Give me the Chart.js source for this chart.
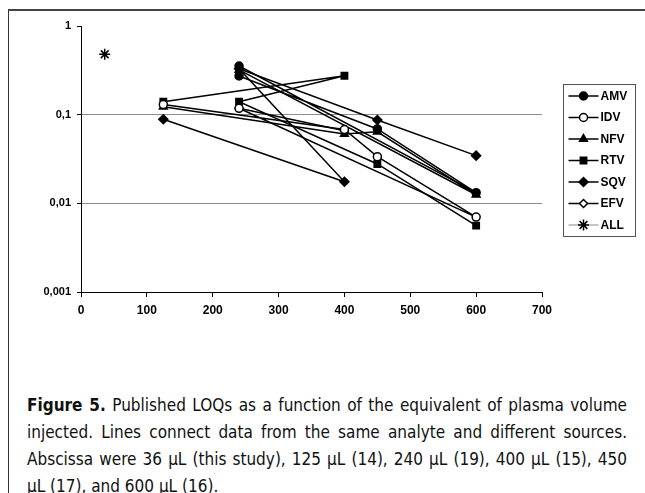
<!DOCTYPE html>
<html>
<head>
<meta charset="utf-8">
<script src="https://cdn.jsdelivr.net/npm/chart.js"></script>
<style>
  html, body { margin: 0; padding: 0; background: #fff; }
  body { width: 645px; height: 493px; position: relative; overflow: hidden; }
  #frame { position: absolute; left: 8px; top: 9px; width: 660px; height: 500px;
           border-top: 2px solid #444; border-left: 1.5px solid #333; }
  #wrap { position: absolute; left: 0; top: 0; width: 645px; height: 330px; }
  #caption { position: absolute; left: 27px; top: 392px; width: 600px;
             font-family: "Liberation Sans Narrow", "DejaVu Sans Condensed", "Liberation Sans", sans-serif;
             font-size: 17px; line-height: 27px; color: #111; }
  #caption div { white-space: nowrap; text-align: justify; text-align-last: justify; }
  #caption div.last { text-align-last: left; }
</style>
</head>
<body>
<div id="frame"></div>
<div id="wrap"><canvas id="myChart" width="645" height="330"></canvas></div>
<div id="caption">
  <div><b>Figure 5.</b> Published LOQs as a function of the equivalent of plasma volume</div>
  <div>injected. Lines connect data from the same analyte and different sources.</div>
  <div>Abscissa were 36 µL (this study), 125 µL (14), 240 µL (19), 400 µL (15), 450</div>
  <div class="last">µL (17), and 600 µL (16).</div>
</div>
<script>
  // axis ticks
  const yTickValues = [0.001, 0.01, 0.1, 1];
  const yTickLabels = ['0,001', '0,01', '0,1', '1'];

  // series, in the order the lines join them (µL injected, LOQ)
  const amvX = [240, 450, 600, 240];
  const amvY = [0.273, 0.069, 0.0132, 0.354];
  const idvX = [125, 400, 450, 600, 240];
  const idvY = [0.13, 0.068, 0.0336, 0.0070, 0.118];
  const nfvX = [125, 400, 450, 600, 240];
  const nfvY = [0.123, 0.0605, 0.064, 0.0125, 0.32];
  const rtvX = [125, 400, 240, 450, 600];
  const rtvY = [0.14, 0.275, 0.14, 0.0278, 0.0056];
  const sqvX = [125, 400, 240, 450, 600];
  const sqvY = [0.0887, 0.0175, 0.33, 0.087, 0.0345];
  const efvX = [240, 400];
  const efvY = [0.118, 0.066];
  const allX = [36];
  const allY = [0.48];

  const pts = (xs, ys) => xs.map((x, i) => ({ x: x, y: ys[i] }));

  function series(label, xs, ys, style, fill, radius, showLine) {
    return {
      label: label,
      data: pts(xs, ys),
      borderColor: '#000',
      borderWidth: 1.5,
      pointStyle: style,
      pointRadius: radius,
      pointBorderWidth: 1.5,
      pointBorderColor: '#000',
      pointBackgroundColor: fill,
      showLine: showLine,
      fill: false,
      tension: 0
    };
  }

  const datasets = [
    series('AMV', amvX, amvY, 'circle', '#000', 4, true),
    series('IDV', idvX, idvY, 'circle', '#fff', 4, true),
    series('NFV', nfvX, nfvY, 'triangle', '#000', 4.5, true),
    series('RTV', rtvX, rtvY, 'rect', '#000', 4.5, true),
    series('SQV', sqvX, sqvY, 'rectRot', '#000', 4.5, true),
    series('EFV', efvX, efvY, 'rectRot', '#fff', 4, true),
    series('ALL', allX, allY, 'star', '#000', 5.5, false)
  ];

  // excel-like legend box with line + marker
  const boxLegend = {
    id: 'boxLegend',
    afterDraw(chart) {
      const ctx = chart.ctx;
      const left = 563.5, top = 84.5, w = 72, h = 152, step = 21.5;
      ctx.save();
      ctx.strokeStyle = '#555';
      ctx.lineWidth = 1;
      ctx.strokeRect(left, top, w, h);
      ctx.font = 'bold 12px "Liberation Sans", Arial, sans-serif';
      ctx.textBaseline = 'middle';
      chart.data.datasets.forEach((ds, i) => {
        const y = top + 11.5 + i * step;
        ctx.beginPath();
        ctx.strokeStyle = ds.label === 'ALL' ? '#888' : '#000';
        ctx.lineWidth = ds.label === 'ALL' ? 1 : 1.5;
        ctx.moveTo(left + 5, y);
        ctx.lineTo(left + 35, y);
        ctx.stroke();
        ctx.strokeStyle = '#000';
        ctx.fillStyle = ds.pointBackgroundColor;
        ctx.lineWidth = ds.pointBorderWidth;
        Chart.helpers.drawPoint(ctx, {
          pointStyle: ds.pointStyle,
          radius: ds.pointRadius,
          borderWidth: ds.pointBorderWidth,
          rotation: 0
        }, left + 20, y);
        ctx.fillStyle = '#000';
        ctx.fillText(ds.label, left + 37, y + 0.5);
      });
      ctx.restore();
    }
  };

  new Chart(document.getElementById('myChart'), {
    type: 'line',
    data: { datasets: datasets },
    plugins: [boxLegend],
    options: {
      responsive: false,
      animation: false,
      layout: { padding: { top: 26, right: 103, left: 0, bottom: 0 } },
      plugins: { legend: { display: false }, tooltip: { enabled: false } },
      scales: {
        x: {
          type: 'linear',
          min: 0,
          max: 700,
          afterFit(axis) { axis.height = 38; },
          ticks: { stepSize: 100, color: '#000', padding: 6,
                   font: { family: 'Liberation Sans', size: 12, weight: 'bold' } },
          grid: { drawOnChartArea: false, drawTicks: true, tickLength: 5, tickColor: '#000' },
          border: { display: true, color: '#000', width: 1 }
        },
        y: {
          type: 'logarithmic',
          min: 0.001,
          max: 1,
          afterFit(axis) { axis.width = 81; },
          afterBuildTicks(axis) { axis.ticks = yTickValues.map(v => ({ value: v })); },
          ticks: {
            color: '#000', padding: 6,
            font: { family: 'Liberation Sans', size: 11, weight: 'bold' },
            callback: (v) => yTickLabels[yTickValues.indexOf(v)]
          },
          grid: {
            color: (c) => (c.tick && (c.tick.value === 0.1 || c.tick.value === 0.01)) ? '#8c8c8c' : 'rgba(0,0,0,0)',
            lineWidth: 1,
            tickLength: 4,
            tickColor: '#000'
          },
          border: { display: true, color: '#000', width: 1 }
        }
      }
    }
  });
</script>
</body>
</html>
